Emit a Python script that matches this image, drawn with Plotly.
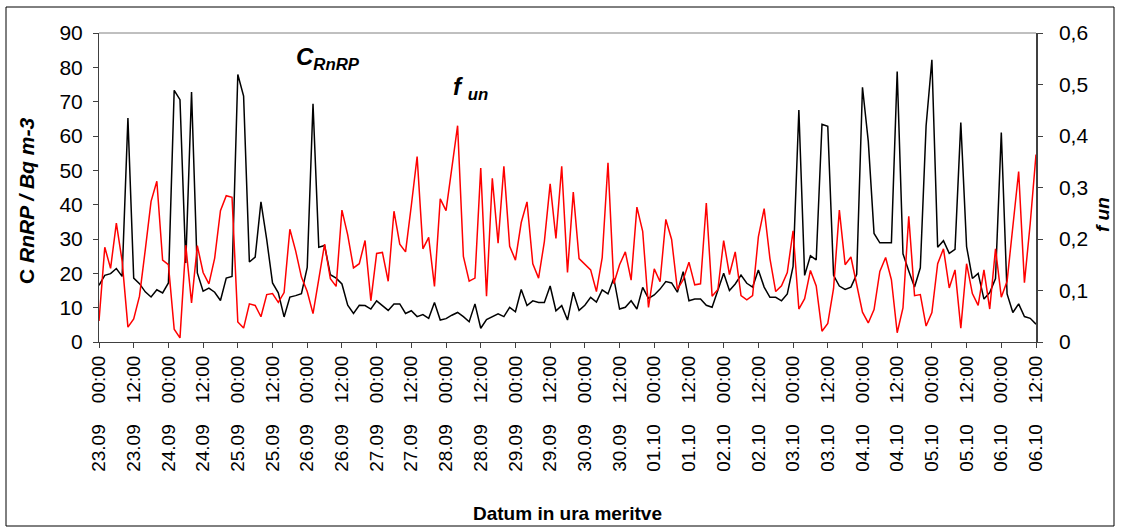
import plotly.graph_objects as go

# ---- data -------------------------------------------------------------
tick_dates = ["23.09", "23.09", "24.09", "24.09", "25.09", "25.09", "26.09", "26.09",
              "27.09", "27.09", "28.09", "28.09", "29.09", "29.09", "30.09", "30.09",
              "01.10", "01.10", "02.10", "02.10", "03.10", "03.10", "04.10", "04.10",
              "05.10", "05.10", "06.10", "06.10"]
tick_times = ["00:00", "12:00"] * 14

c_rnrp = [16.5, 19.4, 19.9, 21.4, 19.1, 65.2, 18.6, 17.0, 14.6, 13.1,
          15.2, 14.3, 17.2, 73.3, 70.6, 23.0, 72.8, 20.1, 14.8, 15.7,
          14.5, 12.1, 18.6, 19.1, 77.9, 71.6, 23.3, 24.7, 40.8, 29.8,
          17.2, 14.3, 7.3, 13.1, 13.5, 14.1, 21.7, 69.4, 27.6, 28.1,
          19.6, 18.6, 16.9, 10.7, 8.3, 10.7, 10.6, 9.6, 12.0, 10.7,
          9.2, 11.1, 11.1, 8.3, 9.1, 7.4, 8.0, 6.9, 11.5, 6.4,
          6.8, 7.8, 8.6, 7.4, 5.9, 11.1, 4.0, 6.5, 7.4, 8.2,
          7.4, 10.1, 8.8, 15.3, 10.6, 12.0, 11.5, 11.5, 16.3, 9.1,
          10.6, 6.4, 14.5, 9.2, 10.7, 13.0, 11.6, 15.2, 14.0, 18.6,
          9.6, 10.1, 12.0, 9.6, 15.9, 12.7, 13.7, 15.4, 17.6, 17.2,
          14.5, 20.5, 12.0, 12.5, 12.5, 10.7, 10.1, 15.1, 20.0, 15.0,
          16.9, 19.5, 17.1, 16.0, 21.0, 16.0, 13.0, 13.0, 12.0, 14.0,
          22.0, 67.6, 19.4, 25.1, 23.9, 63.4, 62.8, 19.4, 16.3, 15.3,
          16.0, 19.7, 74.2, 58.5, 31.6, 28.9, 28.9, 28.9, 78.8, 25.7,
          20.7, 16.0, 21.6, 63.0, 82.2, 27.6, 29.5, 25.8, 27.0, 63.9,
          27.8, 18.5, 20.0, 12.5, 14.4, 18.5, 61.0, 14.0, 8.6, 11.1,
          7.4, 6.9, 5.2]

f_un = [0.041, 0.184, 0.143, 0.231, 0.157, 0.029, 0.045, 0.089, 0.179, 0.273,
        0.312, 0.159, 0.150, 0.025, 0.008, 0.188, 0.076, 0.187, 0.135, 0.113,
        0.163, 0.255, 0.284, 0.281, 0.039, 0.027, 0.074, 0.071, 0.049, 0.092,
        0.094, 0.077, 0.096, 0.219, 0.177, 0.126, 0.098, 0.055, 0.122, 0.190,
        0.123, 0.108, 0.256, 0.208, 0.144, 0.152, 0.197, 0.080, 0.172, 0.174,
        0.118, 0.254, 0.190, 0.175, 0.265, 0.360, 0.181, 0.203, 0.108, 0.278,
        0.255, 0.338, 0.420, 0.166, 0.118, 0.124, 0.338, 0.089, 0.318, 0.192,
        0.341, 0.186, 0.159, 0.232, 0.272, 0.152, 0.124, 0.195, 0.307, 0.201,
        0.341, 0.135, 0.291, 0.162, 0.150, 0.140, 0.098, 0.164, 0.348, 0.113,
        0.150, 0.175, 0.120, 0.262, 0.215, 0.067, 0.142, 0.117, 0.238, 0.199,
        0.102, 0.121, 0.155, 0.111, 0.113, 0.270, 0.089, 0.102, 0.197, 0.131,
        0.175, 0.090, 0.082, 0.090, 0.204, 0.259, 0.162, 0.098, 0.109, 0.135,
        0.216, 0.064, 0.084, 0.139, 0.109, 0.021, 0.036, 0.104, 0.256, 0.150,
        0.165, 0.110, 0.058, 0.037, 0.063, 0.137, 0.164, 0.121, 0.018, 0.066,
        0.244, 0.090, 0.092, 0.031, 0.057, 0.152, 0.181, 0.105, 0.140, 0.027,
        0.152, 0.094, 0.071, 0.140, 0.064, 0.181, 0.087, 0.118, 0.222, 0.331,
        0.115, 0.230, 0.364]

y2_vals = [0, 0.1, 0.2, 0.3, 0.4, 0.5, 0.6]
y2_text = ["0", "0,1", "0,2", "0,3", "0,4", "0,5", "0,6"]

# measurements every 2 hours starting 23.09 00:00
hours = [2 * i for i in range(len(c_rnrp))]
tick_hours = [12 * k for k in range(len(tick_dates))]
gap = "\u00a0" * 4
tick_text = [f"{d}{gap}{t}" for d, t in zip(tick_dates, tick_times)]

FONT = "Liberation Sans, Arial, sans-serif"

fig = go.Figure()
fig.add_trace(go.Scatter(x=hours, y=c_rnrp, mode="lines",
                         line=dict(color="#000000", width=1.5), yaxis="y",
                         name="C RnRP"))
fig.add_trace(go.Scatter(x=hours, y=f_un, mode="lines",
                         line=dict(color="#ff0000", width=1.5), yaxis="y2",
                         name="f un"))

fig.update_layout(
    width=1121, height=529,
    margin=dict(l=99, r=85, t=33, b=187, autoexpand=False),
    paper_bgcolor="white", plot_bgcolor="white",
    showlegend=False,
    font=dict(family=FONT, color="black"),
    xaxis=dict(range=[0, hours[-1]], tickvals=tick_hours, ticktext=tick_text,
               tickangle=-90, ticks="outside", ticklen=5, tickcolor="#404040",
               showline=True, linecolor="#404040", linewidth=1,
               showgrid=False, zeroline=False,
               tickfont=dict(size=19, family=FONT, color="black")),
    yaxis=dict(range=[0, 90], tick0=0, dtick=10, ticks="outside", ticklen=5,
               tickcolor="#404040", showline=True, linecolor="#404040",
               linewidth=1, showgrid=False, zeroline=False,
               ticklabelstandoff=6,
               tickfont=dict(size=21, family=FONT, color="black")),
    yaxis2=dict(range=[0, 0.6], overlaying="y", side="right",
                tickvals=y2_vals, ticktext=y2_text, ticks="outside", ticklen=5,
                tickcolor="#404040", showline=True, linecolor="#404040",
                linewidth=1.5, showgrid=False, zeroline=False,
                ticklabelstandoff=12,
                tickfont=dict(size=21, family=FONT, color="black")),
)

# plot-area top border and chart outer frame
fig.add_shape(type="line", xref="paper", yref="paper", x0=0, x1=1, y0=1, y1=1,
              line=dict(color="#808080", width=1))
fig.add_shape(type="rect", xref="paper", yref="paper",
              x0=(6 - 99) / 937, x1=(1114 - 99) / 937,
              y0=(342 - 526) / 309, y1=(342 - 7) / 309,
              line=dict(color="#000000", width=1))

annotations = [
    dict(text="<b>C <i>RnRP / Bq m-3</i></b>", x=(26 - 99) / 937, y=(342 - 201) / 309,
         textangle=-90, font=dict(size=21)),
    dict(text="<b><i>f un</i></b>", x=(1102 - 99) / 937, y=(342 - 215) / 309,
         textangle=-90, font=dict(size=19)),
    dict(text="<b>Datum in ura meritve</b>", x=(567 - 99) / 937, y=(342 - 513) / 309,
         font=dict(size=19)),
    dict(text="<b><i>C<sub>RnRP</sub></i></b>", x=(328 - 99) / 937, y=(342 - 58) / 309,
         font=dict(size=24)),
    dict(text="<b><i>f <sub>un</sub></i></b>", x=(470 - 99) / 937, y=(342 - 88) / 309,
         font=dict(size=24)),
]
for a in annotations:
    a.update(xref="paper", yref="paper", showarrow=False,
             xanchor="center", yanchor="middle")
    a["font"].update(family=FONT, color="black")
fig.update_layout(annotations=annotations)

fig.write_html("out.html")
